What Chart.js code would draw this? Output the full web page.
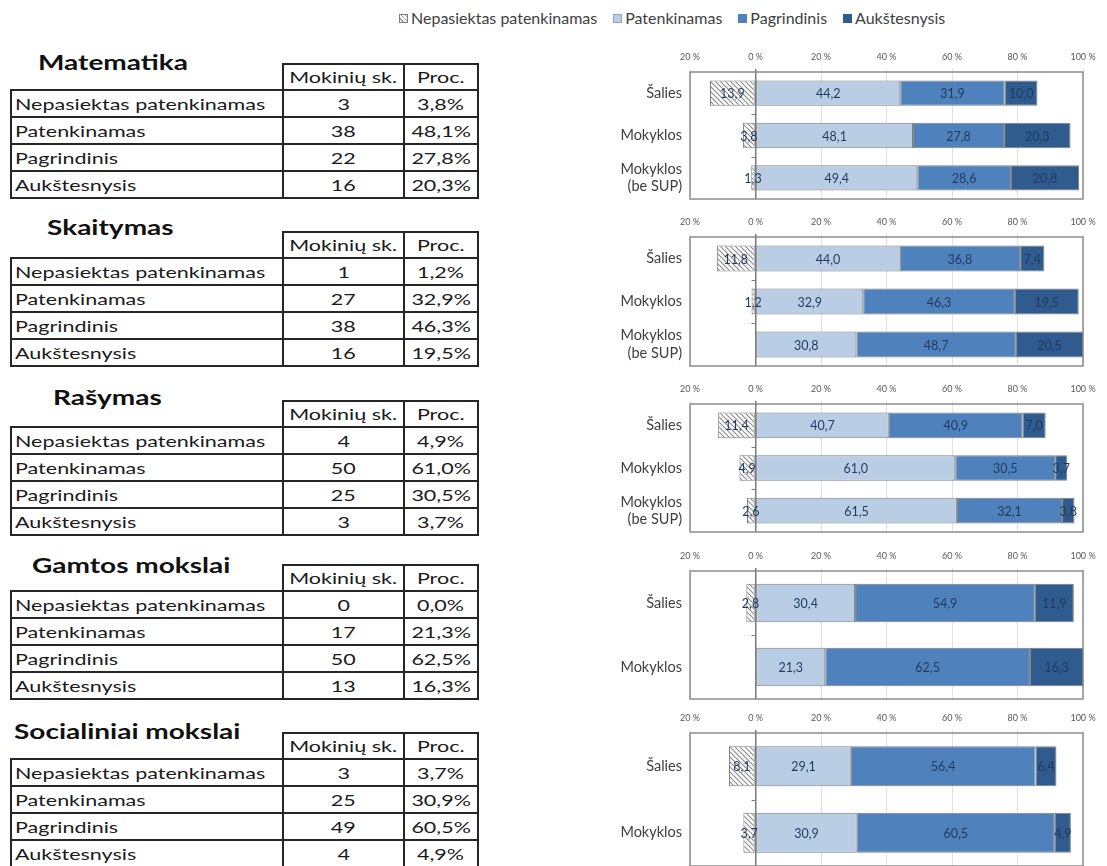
<!DOCTYPE html>
<html><head><meta charset="utf-8">
<script src="https://cdn.jsdelivr.net/npm/chart.js@4.4.1/dist/chart.umd.min.js"></script>
<style>
html,body{margin:0;padding:0;background:#fff;width:1107px;height:866px;overflow:hidden;font-family:Lato,"Open Sans",sans-serif;color:#1a1a1a;}
.title{position:absolute;font-weight:bold;font-size:20px;line-height:22px;white-space:nowrap;color:#111;transform:scaleX(1.4);transform-origin:left center;}
table.t{position:absolute;left:10px;border-collapse:collapse;table-layout:fixed;font-size:16px;}
table.t td{border:2px solid #262626;height:25px;line-height:25px;padding:0 0 0 3px;white-space:nowrap;overflow:hidden;}
table.t td.c{text-align:center;padding:0;}
table.t tr.h td{height:24px;line-height:24px;}
table.t tr.h td.blank{border:none;}
table.t td span{display:inline-block;transform:scaleX(1.344);transform-origin:left center;}
table.t td.c span{transform-origin:center center;}
#legend{position:absolute;left:399px;top:8px;display:flex;align-items:center;gap:16px;font-size:16px;line-height:20px;color:#404040;white-space:nowrap;}
#legend .it{display:flex;align-items:center;gap:3px;}
.sw{display:inline-block;width:9px;height:9px;box-sizing:border-box;border:1px solid #7f7f7f;}
canvas{position:absolute;left:600px;}
</style></head><body>
<div id="root"><div id="legend"></div></div>
<script>
// ---------- DATA ----------
const levelNames = ['Nepasiektas patenkinamas', 'Patenkinamas', 'Pagrindinis', 'Aukštesnysis'];
const subjectNames = ['Matematika', 'Skaitymas', 'Rašymas', 'Gamtos mokslai', 'Socialiniai mokslai'];
const tableHeader = ['Mokinių sk.', 'Proc.'];

const matCounts = [3, 38, 22, 16];
const matPercents = [3.8, 48.1, 27.8, 20.3];
const skaCounts = [1, 27, 38, 16];
const skaPercents = [1.2, 32.9, 46.3, 19.5];
const rasCounts = [4, 50, 25, 3];
const rasPercents = [4.9, 61.0, 30.5, 3.7];
const gamCounts = [0, 17, 50, 13];
const gamPercents = [0.0, 21.3, 62.5, 16.3];
const socCounts = [3, 25, 49, 4];
const socPercents = [3.7, 30.9, 60.5, 4.9];

const cats3 = ['Šalies', 'Mokyklos', ['Mokyklos', '(be SUP)']];
const cats2 = ['Šalies', 'Mokyklos'];

const matNepasiektas = [13.9, 3.8, 1.3];
const matPatenkinamas = [44.2, 48.1, 49.4];
const matPagrindinis = [31.9, 27.8, 28.6];
const matAukstesnysis = [10.0, 20.3, 20.8];

const skaNepasiektas = [11.8, 1.2, 0];
const skaPatenkinamas = [44.0, 32.9, 30.8];
const skaPagrindinis = [36.8, 46.3, 48.7];
const skaAukstesnysis = [7.4, 19.5, 20.5];

const rasNepasiektas = [11.4, 4.9, 2.6];
const rasPatenkinamas = [40.7, 61.0, 61.5];
const rasPagrindinis = [40.9, 30.5, 32.1];
const rasAukstesnysis = [7.0, 3.7, 3.8];

const gamNepasiektas = [2.8, 0];
const gamPatenkinamas = [30.4, 21.3];
const gamPagrindinis = [54.9, 62.5];
const gamAukstesnysis = [11.9, 16.3];

const socNepasiektas = [8.1, 3.7];
const socPatenkinamas = [29.1, 30.9];
const socPagrindinis = [56.4, 60.5];
const socAukstesnysis = [6.4, 4.9];

const axisMin = -20, axisMax = 100, axisStep = 20;

// ---------- LAYOUT / STYLE ----------
const root = document.getElementById('root');
const fmt = v => Math.abs(v).toFixed(1).replace('.', ',');

// legend
const legSwatch = [
  'background:repeating-linear-gradient(45deg,#fff 0 2px,#9a9a9a 2px 3px);',
  'background:#b9cde5;border-color:#8ea6c6;',
  'background:#4f81bd;border-color:#4f81bd;',
  'background:#2f5b8f;border-color:#2f5b8f;'
];
const legend = document.getElementById('legend');
levelNames.forEach((n, i) => {
  const it = document.createElement('div'); it.className = 'it';
  const s = document.createElement('span'); s.className = 'sw'; s.style.cssText = legSwatch[i];
  const t = document.createElement('span'); t.textContent = n;
  it.appendChild(s); it.appendChild(t); legend.appendChild(it);
});

// tables
const tableData = [
  [matCounts, matPercents], [skaCounts, skaPercents], [rasCounts, rasPercents],
  [gamCounts, gamPercents], [socCounts, socPercents]
];
const tableTops = [63, 231, 400, 564, 732];
const titleTops = [51, 216, 386, 554, 720];
const titleLefts = [38, 47, 53, 32, 14];
subjectNames.forEach((name, k) => {
  const t = document.createElement('div'); t.className = 'title';
  t.style.left = titleLefts[k] + 'px'; t.style.top = titleTops[k] + 'px';
  t.textContent = name; root.appendChild(t);
  const tb = document.createElement('table'); tb.className = 't';
  tb.style.top = tableTops[k] + 'px';
  let html = '<colgroup><col style="width:272px"><col style="width:121px"><col style="width:74px"></colgroup>';
  html += '<tr class="h"><td class="blank"></td><td class="c"><span>' + tableHeader[0] + '</span></td><td class="c"><span>' + tableHeader[1] + '</span></td></tr>';
  const [cnt, pct] = tableData[k];
  levelNames.forEach((ln, i) => {
    html += '<tr><td><span>' + ln + '</span></td><td class="c"><span>' + cnt[i] + '</span></td><td class="c"><span>' + fmt(pct[i]) + '%</span></td></tr>';
  });
  tb.innerHTML = html;
  root.appendChild(tb);
});

// hatch pattern
function makeHatch() {
  const c = document.createElement('canvas'); c.width = 5; c.height = 5;
  const g = c.getContext('2d');
  g.fillStyle = '#ffffff'; g.fillRect(0, 0, 5, 5);
  g.strokeStyle = '#8f8f8f'; g.lineWidth = 1.2;
  g.beginPath();
  g.moveTo(-1, -1); g.lineTo(6, 6);
  g.moveTo(-1, 4); g.lineTo(1, 6);
  g.moveTo(4, -1); g.lineTo(6, 1);
  g.stroke();
  return g.createPattern(c, 'repeat');
}

const valuePlugin = {
  id: 'vals',
  afterDatasetsDraw(chart) {
    const ctx = chart.ctx; ctx.save();
    ctx.font = '12.5px Lato'; ctx.fillStyle = '#1f3a5f';
    ctx.textAlign = 'center'; ctx.textBaseline = 'middle';
    chart.data.datasets.forEach((ds, i) => {
      chart.getDatasetMeta(i).data.forEach((el, j) => {
        const v = ds.data[j]; if (!v) return;
        const p = el.getCenterPoint();
        ctx.fillText(fmt(v), p.x, p.y + 1);
      });
    });
    ctx.restore();
  }
};
const boxPlugin = {
  id: 'box',
  beforeDatasetsDraw(chart) {
    const a = chart.chartArea, ctx = chart.ctx;
    ctx.save();
    ctx.strokeStyle = '#8c8c8c'; ctx.lineWidth = 1.5;
    ctx.strokeRect(a.left, a.top, a.right - a.left, a.bottom - a.top);
    const x0 = chart.scales.x.getPixelForValue(0);
    const n = chart.data.labels.length, step = (a.bottom - a.top) / n;
    ctx.strokeStyle = '#7a7a7a'; ctx.lineWidth = 1;
    for (let i = 1; i < n; i++) {
      const y = Math.round(a.top + i * step) + 0.5;
      ctx.beginPath(); ctx.moveTo(x0 - 4, y); ctx.lineTo(x0, y); ctx.stroke();
    }
    ctx.restore();
  }
};

const chartSpecs = [
  {labels: cats3, d: [matNepasiektas, matPatenkinamas, matPagrindinis, matAukstesnysis], top: 72, bottom: 199},
  {labels: cats3, d: [skaNepasiektas, skaPatenkinamas, skaPagrindinis, skaAukstesnysis], top: 237, bottom: 366},
  {labels: cats3, d: [rasNepasiektas, rasPatenkinamas, rasPagrindinis, rasAukstesnysis], top: 404, bottom: 532},
  {labels: cats2, d: [gamNepasiektas, gamPatenkinamas, gamPagrindinis, gamAukstesnysis], top: 571, bottom: 699},
  {labels: cats2, d: [socNepasiektas, socPatenkinamas, socPagrindinis, socAukstesnysis], top: 733, bottom: 866}
];
const topAxisH = 26, canvasW = 507, yAxisW = 90, padRight = 24;
const fills = [makeHatch(), '#b9cde5', '#4f81bd', '#2f5b8f'];

chartSpecs.forEach((sp, k) => {
  const cv = document.createElement('canvas');
  const h = topAxisH + (sp.bottom - sp.top) + 1;
  cv.width = canvasW; cv.height = h;
  cv.style.width = canvasW + 'px'; cv.style.height = h + 'px';
  cv.style.top = (sp.top - topAxisH) + 'px';
  root.appendChild(cv);
  new Chart(cv, {
    type: 'bar',
    data: {
      labels: sp.labels,
      datasets: levelNames.map((n, i) => ({
        label: n,
        data: i === 0 ? sp.d[0].map(v => -v) : sp.d[i],
        backgroundColor: fills[i],
        borderColor: '#7f7f7f',
        borderWidth: 1,
        borderSkipped: false,
        categoryPercentage: 1,
        barPercentage: 0.6
      }))
    },
    options: {
      indexAxis: 'y', responsive: false, animation: false, devicePixelRatio: 1,
      layout: {padding: {left: 0, right: padRight, top: 0, bottom: 1}},
      plugins: {legend: {display: false}, tooltip: {enabled: false}},
      scales: {
        x: {
          position: 'top', stacked: true, min: axisMin, max: axisMax,
          afterFit: s => { s.height = topAxisH; s.paddingLeft = 0; s.paddingRight = 0; },
          ticks: {stepSize: axisStep, padding: 7, color: '#595959', font: {family: 'Lato', size: 9},
            callback: v => Math.abs(v) + ' %'},
          grid: {color: c => (c.tick && c.tick.value === 0) ? '#7a7a7a' : '#e2e2e2',
            lineWidth: c => (c.tick && c.tick.value === 0) ? 1.5 : 1, tickLength: 3},
          border: {display: false}
        },
        y: {
          stacked: true,
          afterFit: s => { s.width = yAxisW; s.paddingTop = 0; s.paddingBottom = 0; },
          ticks: {padding: 8, color: '#404040', font: {family: 'Lato', size: 14.5}},
          grid: {display: false, drawTicks: false}, border: {display: false}
        }
      }
    },
    plugins: [boxPlugin, valuePlugin]
  });
});
</script>
</body></html>
